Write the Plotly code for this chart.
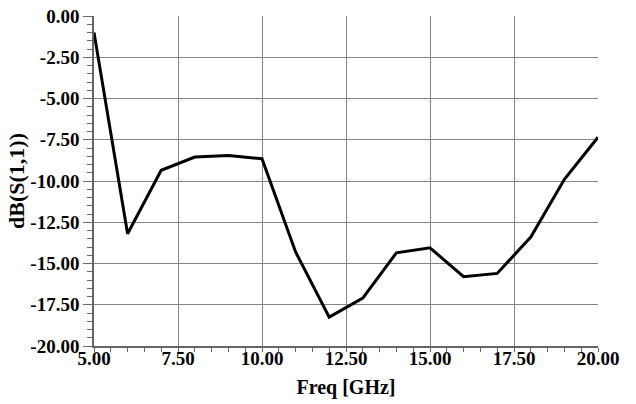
import plotly.graph_objects as go

freq_ghz = [5, 6, 7, 8, 9, 10, 11, 12, 13, 14, 15, 16, 17, 18, 19, 20]
s11_db = [-1.0, -13.2, -9.35, -8.55, -8.45, -8.65, -14.3, -18.25, -17.1,
          -14.35, -14.05, -15.8, -15.6, -13.4, -9.9, -7.35]

x_ticks = [5.0, 7.5, 10.0, 12.5, 15.0, 17.5, 20.0]
y_ticks = [0.0, -2.5, -5.0, -7.5, -10.0, -12.5, -15.0, -17.5, -20.0]

font_family = "Liberation Serif"

fig = go.Figure()
fig.add_trace(go.Scatter(
    x=freq_ghz, y=s11_db, mode="lines",
    line=dict(color="black", width=3),
    showlegend=False, hoverinfo="skip",
))

axis_common = dict(
    showline=True, linecolor="#666666", linewidth=1.5,
    showgrid=True, gridcolor="#858585", gridwidth=1.2,
    ticks="outside", tickcolor="#666666", tickwidth=1.2,
    tickfont=dict(family=font_family, size=19, color="black", weight="bold"),
    zeroline=False, mirror=False, automargin=False,
)

fig.update_xaxes(
    range=[5, 20], tickvals=x_ticks,
    ticktext=[f"<b>{v:.2f}</b>" for v in x_ticks], ticklen=4,
    ticklabelstandoff=-10,
    title=dict(text="<b>Freq [GHz]</b>", font=dict(family=font_family, size=20, color="black"), standoff=12),
    minor=dict(dtick=0.5, ticks="outside", ticklen=4, tickcolor="#666666", showgrid=False),
    **axis_common,
)
fig.update_yaxes(
    range=[-20, 0], tickvals=y_ticks,
    ticktext=[f"<b>{v:.2f}</b>" for v in y_ticks], ticklen=9,
    title=dict(text="<b>dB(S(1,1))</b>", font=dict(family=font_family, size=22, color="black"), standoff=0),
    minor=dict(dtick=0.5, ticks="outside", ticklen=5, tickcolor="#666666", showgrid=False),
    **axis_common,
)

fig.update_layout(
    width=636, height=404,
    margin=dict(l=94, r=38, t=16, b=58),
    plot_bgcolor="white", paper_bgcolor="white",
)

fig.write_html("out.html", config={"displayModeBar": False},
               post_script="document.body.style.margin='0px';")
